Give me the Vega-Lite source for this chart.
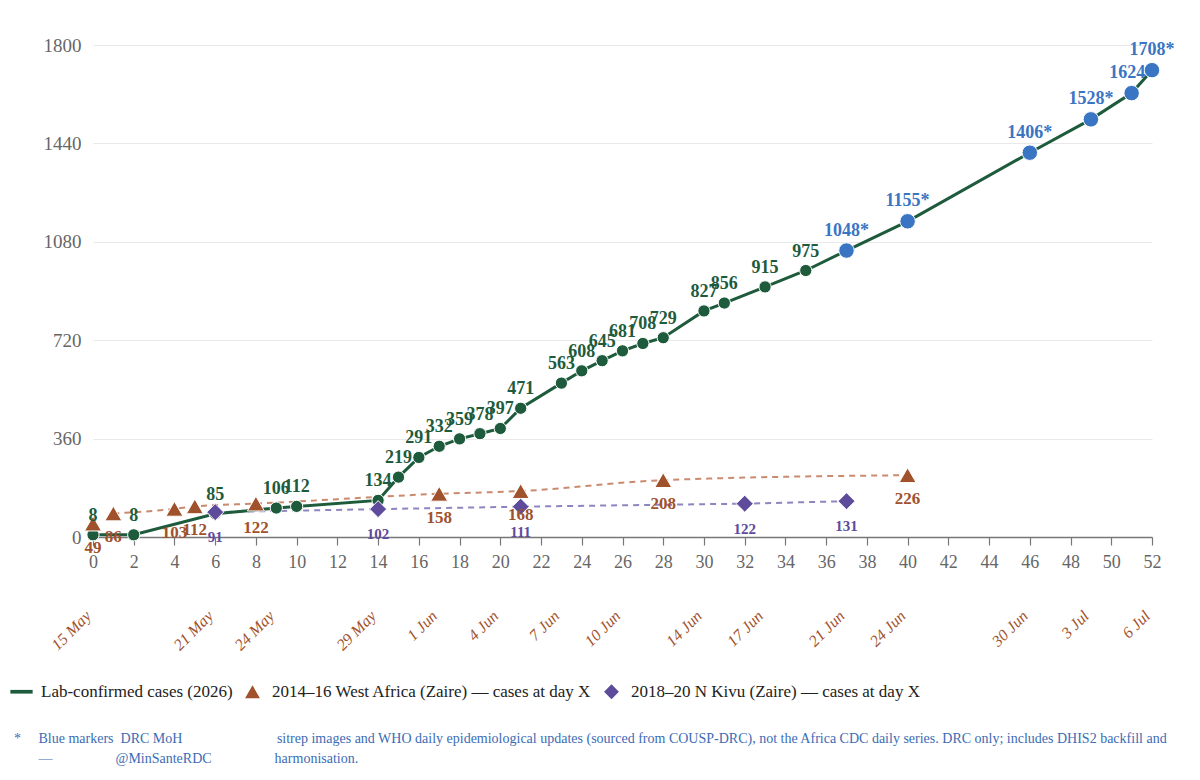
{
  "$schema": "https://vega.github.io/schema/vega-lite/v6.json",
  "width": 1059,
  "height": 492,
  "autosize": {"type": "none"},
  "padding": {"left": 93, "top": 45, "right": 48, "bottom": 243},
  "background": "white",
  "config": {"view": {"stroke": null}, "font": "Liberation Serif"},
  "title": {
    "text": [
      "*\u2002\u2002 Blue markers\u2002DRC MoH\u2003\u2003\u2003\u2003\u2003\u2003\u2002 sitrep images and WHO daily epidemiological updates (sourced from COUSP-DRC), not the Africa CDC daily series. DRC only; includes DHIS2 backfill and",
      "\u200b\u2003\u2002 —\u2003\u2003\u2003\u2003\u2002@MinSanteRDC\u2003\u2003\u2003\u2003\u2002harmonisation."
    ],
    "orient": "bottom",
    "anchor": "start",
    "frame": "group",
    "dx": -79,
    "offset": 32,
    "font": "Liberation Serif",
    "fontSize": 14,
    "fontWeight": "normal",
    "color": "#3b6cb4",
    "lineHeight": 20,
    "baseline": "top"
  },
  "data": {
    "values": [
      {"series": "lab", "day": 0, "value": 8, "label": "8", "star": false},
      {"series": "lab", "day": 2, "value": 8, "label": "8", "star": false},
      {"series": "lab", "day": 6, "value": 85, "label": "85", "star": false},
      {"series": "lab", "day": 9, "value": 106, "label": "106", "star": false},
      {"series": "lab", "day": 10, "value": 112, "label": "112", "star": false},
      {"series": "lab", "day": 14, "value": 134, "label": "134", "star": false},
      {"series": "lab", "day": 15, "value": 219, "label": "219", "star": false},
      {"series": "lab", "day": 16, "value": 291, "label": "291", "star": false},
      {"series": "lab", "day": 17, "value": 332, "label": "332", "star": false},
      {"series": "lab", "day": 18, "value": 359, "label": "359", "star": false},
      {"series": "lab", "day": 19, "value": 378, "label": "378", "star": false},
      {"series": "lab", "day": 20, "value": 397, "label": "397", "star": false},
      {"series": "lab", "day": 21, "value": 471, "label": "471", "star": false},
      {"series": "lab", "day": 23, "value": 563, "label": "563", "star": false},
      {"series": "lab", "day": 24, "value": 608, "label": "608", "star": false},
      {"series": "lab", "day": 25, "value": 645, "label": "645", "star": false},
      {"series": "lab", "day": 26, "value": 681, "label": "681", "star": false},
      {"series": "lab", "day": 27, "value": 708, "label": "708", "star": false},
      {"series": "lab", "day": 28, "value": 729, "label": "729", "star": false},
      {"series": "lab", "day": 30, "value": 827, "label": "827", "star": false},
      {"series": "lab", "day": 31, "value": 856, "label": "856", "star": false},
      {"series": "lab", "day": 33, "value": 915, "label": "915", "star": false},
      {"series": "lab", "day": 35, "value": 975, "label": "975", "star": false},
      {"series": "lab", "day": 37, "value": 1048, "label": "1048*", "star": true},
      {"series": "lab", "day": 40, "value": 1155, "label": "1155*", "star": true},
      {"series": "lab", "day": 46, "value": 1406, "label": "1406*", "star": true},
      {"series": "lab", "day": 49, "value": 1528, "label": "1528*", "star": true},
      {"series": "lab", "day": 51, "value": 1624, "label": "1624*", "star": true},
      {"series": "lab", "day": 52, "value": 1708, "label": "1708*", "star": true},
      {"series": "wa", "day": 0, "value": 49, "label": "49", "star": false},
      {"series": "wa", "day": 1, "value": 86, "label": "86", "star": false},
      {"series": "wa", "day": 4, "value": 103, "label": "103", "star": false},
      {"series": "wa", "day": 5, "value": 112, "label": "112", "star": false},
      {"series": "wa", "day": 8, "value": 122, "label": "122", "star": false},
      {"series": "wa", "day": 17, "value": 158, "label": "158", "star": false},
      {"series": "wa", "day": 21, "value": 168, "label": "168", "star": false},
      {"series": "wa", "day": 28, "value": 208, "label": "208", "star": false},
      {"series": "wa", "day": 40, "value": 226, "label": "226", "star": false},
      {"series": "nk", "day": 6, "value": 91, "label": "91", "star": false},
      {"series": "nk", "day": 14, "value": 102, "label": "102", "star": false},
      {"series": "nk", "day": 21, "value": 111, "label": "111", "star": false},
      {"series": "nk", "day": 32, "value": 122, "label": "122", "star": false},
      {"series": "nk", "day": 37, "value": 131, "label": "131", "star": false}
    ]
  },
  "resolve": {"axis": {"x": "independent"}},
  "layer": [
    {
      "transform": [{"filter": "datum.series == 'wa' && datum.day >= 1"}],
      "mark": {"type": "line", "color": "#c98a6e", "strokeWidth": 2, "strokeDash": [6, 5], "interpolate": "monotone"},
      "encoding": {
        "x": {
          "field": "day", "type": "quantitative",
          "scale": {"domain": [0, 52], "nice": false, "zero": false},
          "axis": {
            "values": [0, 2, 4, 6, 8, 10, 12, 14, 16, 18, 20, 22, 24, 26, 28, 30, 32, 34, 36, 38, 40, 42, 44, 46, 48, 50, 52],
            "orient": "bottom", "title": null, "grid": false,
            "domain": true, "domainColor": "#777", "domainWidth": 1.5,
            "ticks": true, "tickColor": "#777", "tickSize": 8, "tickWidth": 1.2,
            "labelFont": "Liberation Serif", "labelFontSize": 18, "labelColor": "#666", "labelPadding": 8,
            "labelOverlap": false, "labelFlush": false, "labelBound": false
          }
        },
        "y": {
          "field": "value", "type": "quantitative", "title": null,
          "scale": {"domain": [0, 1800], "nice": false},
          "axis": {
            "values": [0, 360, 720, 1080, 1440, 1800], "title": null, "format": "d",
            "domain": false, "ticks": false, "grid": true, "gridColor": "#e8e8e8", "gridWidth": 1,
            "labelFont": "Liberation Serif", "labelFontSize": 19, "labelColor": "#666", "labelPadding": 12
          }
        }
      }
    },
    {
      "transform": [{"filter": "datum.series == 'nk'"}],
      "mark": {"type": "line", "color": "#8e85c0", "strokeWidth": 2, "strokeDash": [6, 5]},
      "encoding": {
        "x": {
          "field": "day", "type": "quantitative",
          "axis": {
            "values": [0, 6, 9, 14, 17, 20, 23, 26, 30, 33, 37, 40, 46, 49, 52],
            "orient": "bottom", "title": null, "grid": false, "domain": false, "ticks": false,
            "labelAngle": -45, "labelAlign": "right", "labelBaseline": "middle",
            "labelFont": "Liberation Serif", "labelFontStyle": "italic", "labelFontSize": 16,
            "labelColor": "#a0522d", "labelPadding": 76, "labelOffset": -5,
            "labelOverlap": false, "labelBound": false, "labelFlush": false,
            "labelExpr": "timeFormat(datetime(2026, 4, 15 + datum.value), '%-d %b')"
          }
        },
        "y": {"field": "value", "type": "quantitative", "title": null}
      }
    },
    {
      "transform": [{"filter": "datum.series == 'lab'"}],
      "mark": {"type": "line", "color": "#1e5b3c", "strokeWidth": 3},
      "encoding": {
        "x": {"field": "day", "type": "quantitative", "axis": null},
        "y": {"field": "value", "type": "quantitative", "title": null}
      }
    },
    {
      "transform": [{"filter": "datum.series == 'lab'"}],
      "mark": {"type": "point", "shape": "circle", "filled": true, "opacity": 1, "stroke": "white", "strokeWidth": 1},
      "encoding": {
        "x": {"field": "day", "type": "quantitative", "axis": null},
        "y": {"field": "value", "type": "quantitative", "title": null},
        "color": {"condition": {"test": "datum.star", "value": "#3a75c4"}, "value": "#1e5b3c"},
        "size": {"condition": {"test": "datum.star", "value": 240}, "value": 150}
      }
    },
    {
      "transform": [{"filter": "datum.series == 'wa' || datum.series == 'nk'"}],
      "mark": {"type": "point", "filled": true, "opacity": 1, "size": 290, "stroke": "white", "strokeWidth": 1},
      "encoding": {
        "x": {"field": "day", "type": "quantitative", "axis": null},
        "y": {"field": "value", "type": "quantitative", "title": null},
        "color": {
          "field": "series", "type": "nominal",
          "scale": {"domain": ["lab", "wa", "nk"], "range": ["#1e5b3c", "#a0522d", "#5e4b9c"]},
          "legend": {
            "title": null, "orient": "none", "legendX": -80, "legendY": 638, "direction": "horizontal",
            "labelFont": "Liberation Serif", "labelFontSize": 17, "labelColor": "#222", "labelLimit": 0,
            "symbolSize": 220, "symbolStrokeWidth": 0, "labelOffset": 11, "columnPadding": 11,
            "labelExpr": "datum.value == 'lab' ? 'Lab-confirmed cases (2026)' : datum.value == 'wa' ? '2014–16 West Africa (Zaire) — cases at day X' : '2018–20 N Kivu (Zaire) — cases at day X'"
          }
        },
        "shape": {
          "field": "series", "type": "nominal",
          "scale": {"domain": ["lab", "wa", "nk"], "range": ["M-1.5,-0.25L1.5,-0.25L1.5,0.25L-1.5,0.25Z", "triangle-up", "diamond"]},
          "legend": {
            "title": null, "orient": "none", "legendX": -80, "legendY": 638, "direction": "horizontal",
            "labelFont": "Liberation Serif", "labelFontSize": 17, "labelColor": "#222", "labelLimit": 0,
            "symbolSize": 220, "symbolStrokeWidth": 0, "labelOffset": 11, "columnPadding": 11,
            "labelExpr": "datum.value == 'lab' ? 'Lab-confirmed cases (2026)' : datum.value == 'wa' ? '2014–16 West Africa (Zaire) — cases at day X' : '2018–20 N Kivu (Zaire) — cases at day X'"
          }
        }
      }
    },
    {
      "transform": [{"filter": "datum.series == 'lab' && !datum.star"}],
      "mark": {"type": "text", "font": "Liberation Serif", "fontWeight": "bold", "fontSize": 18, "dy": -19, "baseline": "middle", "color": "#1e5b3c"},
      "encoding": {
        "x": {"field": "day", "type": "quantitative", "axis": null},
        "y": {"field": "value", "type": "quantitative", "title": null},
        "text": {"field": "label"}
      }
    },
    {
      "transform": [{"filter": "datum.series == 'lab' && datum.star"}],
      "mark": {"type": "text", "font": "Liberation Serif", "fontWeight": "bold", "fontSize": 18, "dy": -20, "baseline": "middle", "color": "#3a75c4"},
      "encoding": {
        "x": {"field": "day", "type": "quantitative", "axis": null},
        "y": {"field": "value", "type": "quantitative", "title": null},
        "text": {"field": "label"}
      }
    },
    {
      "transform": [{"filter": "datum.series == 'wa'"}],
      "mark": {"type": "text", "font": "Liberation Serif", "fontWeight": "bold", "fontSize": 17, "dy": 24, "baseline": "middle", "color": "#a0522d"},
      "encoding": {
        "x": {"field": "day", "type": "quantitative", "axis": null},
        "y": {"field": "value", "type": "quantitative", "title": null},
        "text": {"field": "label"}
      }
    },
    {
      "transform": [{"filter": "datum.series == 'nk'"}],
      "mark": {"type": "text", "font": "Liberation Serif", "fontWeight": "bold", "fontSize": 15, "dy": 25, "baseline": "middle", "color": "#5e4b9c"},
      "encoding": {
        "x": {"field": "day", "type": "quantitative", "axis": null},
        "y": {"field": "value", "type": "quantitative", "title": null},
        "text": {"field": "label"}
      }
    }
  ]
}
